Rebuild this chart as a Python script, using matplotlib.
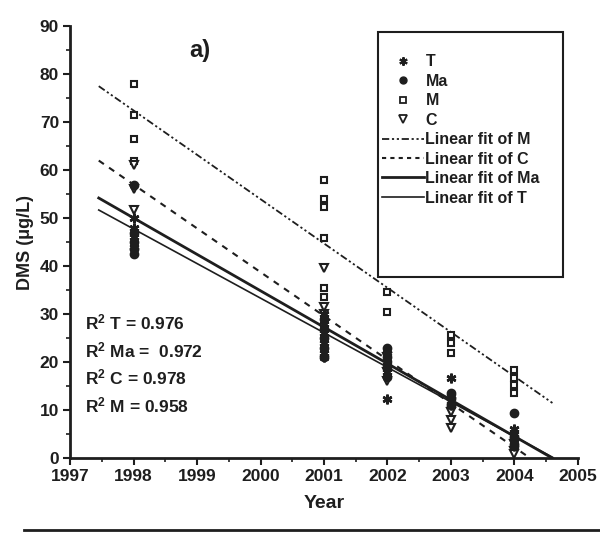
import matplotlib
matplotlib.use("Agg")
import matplotlib.pyplot as plt
from matplotlib.lines import Line2D
from matplotlib.patches import Rectangle

plt.rcParams['font.family'] = ['Liberation Sans', 'DejaVu Sans']
plt.rcParams['font.weight'] = 'bold'
plt.rcParams['mathtext.fontset'] = 'custom'
plt.rcParams['mathtext.rm'] = 'Liberation Sans:bold'
plt.rcParams['mathtext.bf'] = 'Liberation Sans:bold'
plt.rcParams['mathtext.default'] = 'bf'

# ---- data ----
years = [1998, 2001, 2002, 2003, 2004]

T_vals = {1998: [50, 48, 46, 44], 2001: [30, 28, 26, 24, 22, 21],
          2002: [22, 20, 18, 12.3], 2003: [16.7, 13, 12, 11], 2004: [6, 5, 4, 2.5]}
Ma_vals = {1998: [57, 47, 45, 43.5, 42.5], 2001: [29, 27, 25, 23, 21],
           2002: [23, 21, 19, 17], 2003: [13.5, 12.5, 11], 2004: [9.4, 4.5, 3]}
M_vals = {1998: [78, 71.5, 66.5, 62], 2001: [58, 54, 52.3, 45.8, 35.4, 33.5],
          2002: [34.6, 30.5], 2003: [25.6, 24, 21.9], 2004: [18.3, 16.7, 15.2, 13.5]}
C_vals = {1998: [61, 56, 51.7], 2001: [39.6, 31.5, 30], 2002: [21, 18, 16],
          2003: [9.6, 7.9, 6.2], 2004: [3, 1.5, 0.8]}

# linear fits: (x_start, y_start, x_end, y_end)
fit_M = (1997.45, 77.5, 2004.6, 11.5)
fit_C = (1997.45, 62.0, 2004.25, 0.0)
fit_Ma = (1997.45, 54.2, 2004.6, 0.0)
fit_T = (1997.45, 51.7, 2004.6, 0.2)

r2_labels = ["R$^{2}$ T = 0.976", "R$^{2}$ Ma =  0.972", "R$^{2}$ C = 0.978", "R$^{2}$ M = 0.958"]
r2_y = [28.3, 22.5, 16.9, 11.0]

x_ticks = list(range(1997, 2006))
y_ticks = list(range(0, 91, 10))

ink = '#1e1e1e'


def flat(d):
    xs, ys = [], []
    for k, v in d.items():
        xs += [k] * len(v)
        ys += v
    return xs, ys


fig = plt.figure(figsize=(6.0, 5.34), dpi=100)
ax = fig.add_axes([0.117, 0.142, 0.846, 0.809])

ax.set_xlim(1997, 2005)
ax.set_ylim(0, 90)

# fits
ax.plot(fit_M[0::2], fit_M[1::2], color=ink, lw=1.3, dashes=(4, 1.5, 1.2, 1.5, 1.2, 1.5))
ax.plot(fit_C[0::2], fit_C[1::2], color=ink, lw=1.5, dashes=(3, 3))
ax.plot(fit_Ma[0::2], fit_Ma[1::2], color=ink, lw=2.0)
ax.plot(fit_T[0::2], fit_T[1::2], color=ink, lw=1.2)

# scatter
x, y = flat(M_vals)
ax.plot(x, y, ls='none', marker='s', ms=5, mfc='white', mec=ink, mew=1.5)
x, y = flat(C_vals)
ax.plot(x, y, ls='none', marker='v', ms=6, mfc='white', mec=ink, mew=1.5)
x, y = flat(Ma_vals)
ax.plot(x, y, ls='none', marker='o', ms=6, mfc=ink, mec=ink)
x, y = flat(T_vals)
ax.plot(x, y, ls='none', marker=(6, 2, 0), ms=7, mec=ink, mew=1.8)

# axes styling
for s in ['top', 'right']:
    ax.spines[s].set_visible(False)
for s in ['left', 'bottom']:
    ax.spines[s].set_linewidth(2)
    ax.spines[s].set_color(ink)
ax.set_xticks(x_ticks)
ax.set_yticks(y_ticks)
ax.set_xticks([v + 0.5 for v in x_ticks[:-1]], minor=True)
ax.set_yticks([v + 5 for v in y_ticks[:-1]], minor=True)
ax.tick_params(which='major', direction='out', length=5, width=1.5, labelsize=12.5,
               colors=ink, pad=3)
ax.tick_params(which='minor', direction='out', length=3, width=1.2, colors=ink)
for lab in ax.get_xticklabels() + ax.get_yticklabels():
    lab.set_fontweight('bold')

ax.set_xlabel('Year', fontsize=14, fontweight='bold', color=ink, labelpad=8)
ax.set_ylabel('DMS (μg/L)', fontsize=13, fontweight='bold', color=ink, labelpad=4)

ax.text(1999.05, 85, 'a)', fontsize=17, fontweight='bold', color=ink, ha='center', va='center')

for lab, yy in zip(r2_labels, r2_y):
    ax.text(1997.24, yy, lab, fontsize=12.5, fontweight='bold', color=ink,
            ha='left', va='center')

# legend box
ax.add_patch(Rectangle((0.606, 0.419), 0.364, 0.567, transform=ax.transAxes,
                       fill=False, ec=ink, lw=1.5, zorder=5))
handles = [
    Line2D([], [], ls='none', marker=(6, 2, 0), ms=6, mec=ink, mew=1.5),
    Line2D([], [], ls='none', marker='o', ms=5, mfc=ink, mec=ink),
    Line2D([], [], ls='none', marker='s', ms=4.5, mfc='white', mec=ink, mew=1.3),
    Line2D([], [], ls='none', marker='v', ms=5.5, mfc='white', mec=ink, mew=1.3),
    Line2D([], [], color=ink, lw=1.3, dashes=(4, 1.5, 1.2, 1.5, 1.2, 1.5)),
    Line2D([], [], color=ink, lw=1.5, dashes=(2, 2)),
    Line2D([], [], color=ink, lw=2.0),
    Line2D([], [], color=ink, lw=1.2),
]
labels = ['T', 'Ma', 'M', 'C', 'Linear fit of M', 'Linear fit of C',
          'Linear fit of Ma', 'Linear fit of T']
leg = ax.legend(handles, labels, loc='upper left', bbox_to_anchor=(0.615, 0.935),
                frameon=False, fontsize=11.5, handlelength=2.6, handletextpad=0.1,
                labelspacing=0.28, borderaxespad=0, borderpad=0)
for t in leg.get_texts():
    t.set_fontweight('bold')
    t.set_color(ink)

# scan rule at bottom
fig.add_artist(Line2D([0.04, 1.0], [0.008, 0.008], transform=fig.transFigure,
                      color=ink, lw=2))

fig.savefig('out.png', dpi=100, facecolor='white')
